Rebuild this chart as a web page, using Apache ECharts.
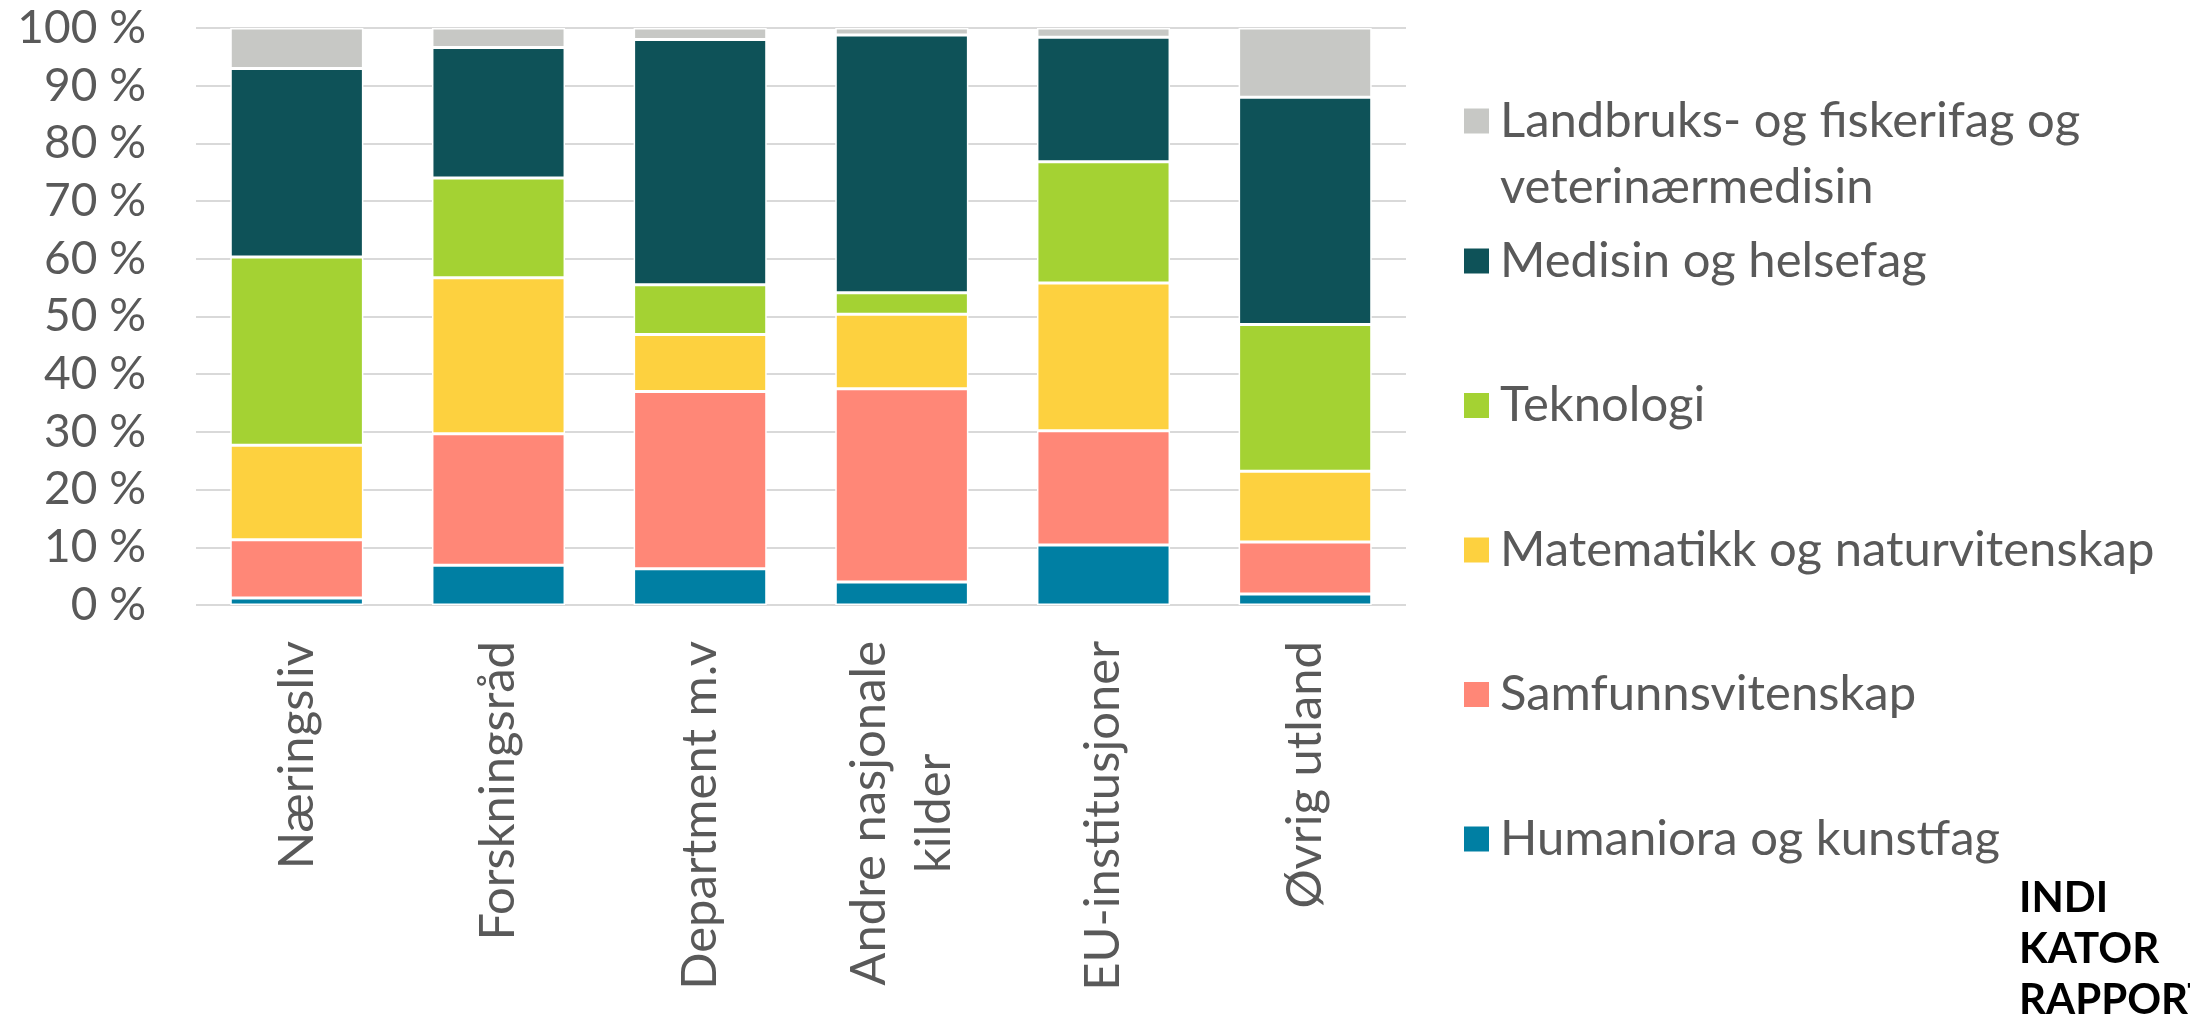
<!DOCTYPE html>
<html>
<head>
<meta charset="utf-8">
<script src="https://cdn.jsdelivr.net/npm/echarts@6/dist/echarts.min.js"></script>
<style>
html,body{margin:0;padding:0;background:#fff;}
#c{width:2190px;height:1020px;}
</style>
</head>
<body>
<div id="c"></div>
<script>
const categories = ['Næringsliv', 'Forskningsråd', 'Department m.v', 'Andre nasjonale\nkilder', 'EU-institusjoner', 'Øvrig utland'];
const humaniora = [1.2, 6.9, 6.3, 4.0, 10.4, 1.9];
const samfunn = [10.1, 22.8, 30.7, 33.5, 19.8, 9.0];
const matematikk = [16.4, 27.0, 9.9, 12.9, 25.6, 12.3];
const teknologi = [32.6, 17.3, 8.6, 3.7, 21.0, 25.4];
const medisin = [32.7, 22.6, 42.5, 44.7, 21.6, 39.4];
const landbruk = [7.0, 3.4, 2.0, 1.2, 1.6, 12.0];
const seriesNames = ['Humaniora og kunstfag', 'Samfunnsvitenskap', 'Matematikk og naturvitenskap', 'Teknologi', 'Medisin og helsefag', 'Landbruks- og fiskerifag og veterinærmedisin'];
const colors = ['#007FA3', '#FF8777', '#FDD13F', '#A4D233', '#0E5258', '#C7C8C5'];
const yTicks = [0, 10, 20, 30, 40, 50, 60, 70, 80, 90, 100];

const TXT = '#595959';
const LFONT = 'Lato';
const XFONT = 'Lato';
const seriesData = [humaniora, samfunn, matematikk, teknologi, medisin, landbruk];

const chart = echarts.init(document.getElementById('c'), null, {renderer: 'canvas'});
const option = {
  animation: false,
  backgroundColor: '#ffffff',
  color: colors,
  grid: {left: 196, right: 784, top: 28, bottom: 415, containLabel: false, outerBoundsMode: 'none'},
  legend: [
    {
      orient: 'vertical',
      left: 1457, top: 17,
      itemWidth: 27, itemHeight: 27,
      icon: 'rect',
      data: [seriesNames[5]],
      formatter: function () { return '\u00a0\nLandbruks- og fiskerifag og\nveterinærmedisin'; },
      textStyle: {fontFamily: LFONT, fontSize: 49, color: TXT, lineHeight: 66, padding: [0, 0, 0, 5]}
    },
    {
      orient: 'vertical',
      left: 1457, top: 231,
      itemWidth: 27, itemHeight: 27,
      itemGap: 94.5,
      icon: 'rect',
      data: [seriesNames[4], seriesNames[3], seriesNames[2], seriesNames[1], seriesNames[0]],
      textStyle: {fontFamily: LFONT, fontSize: 49, color: TXT, lineHeight: 50, padding: [0, 0, 0, 5]}
    }
  ],
  xAxis: {
    type: 'category',
    data: categories,
    axisLine: {show: false},
    axisTick: {show: false},
    axisLabel: {
      rotate: 90,
      margin: 36,
      interval: 0,
      color: TXT,
      fontFamily: XFONT,
      fontSize: 49,
      lineHeight: 65,
      formatter: function (v) {
        return v.split('\n').map(function (s) { return '{c|' + s + '}'; }).join('\n');
      },
      rich: {c: {align: 'center', color: TXT, fontFamily: XFONT, fontSize: 49, lineHeight: 65}}
    }
  },
  yAxis: {
    type: 'value',
    min: yTicks[0], max: yTicks[yTicks.length - 1], interval: 10,
    axisLine: {show: false},
    axisTick: {show: false},
    splitLine: {lineStyle: {color: '#D9D9D9', width: 2}},
    axisLabel: {margin: 50, color: TXT, fontFamily: LFONT, fontSize: 46, formatter: '{value} %'}
  },
  graphic: [{
    type: 'text', left: 2019, top: 873,
    style: {text: 'INDI\nKATOR\nRAPPORT', font: 'bold 42px Lato', lineHeight: 51, fill: '#000'}
  }],
  series: seriesNames.map(function (n, i) {
    return {
      name: n, type: 'bar', stack: 'total',
      barCategoryGap: '34%',
      data: seriesData[i],
      itemStyle: {color: colors[i], borderColor: '#ffffff', borderWidth: 1.5}
    };
  })
};
chart.setOption(option);
</script>
</body>
</html>
